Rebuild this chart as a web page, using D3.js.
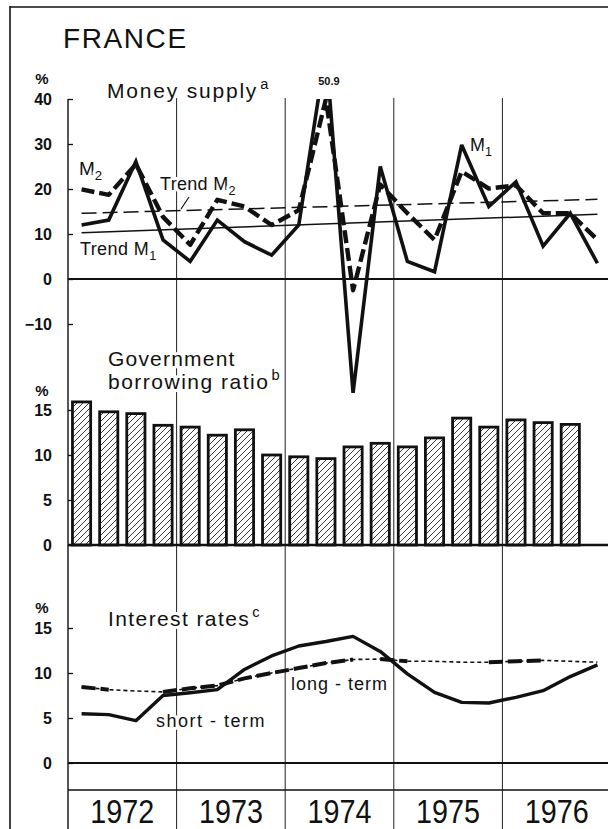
<!DOCTYPE html>
<html>
<head>
<meta charset="utf-8">
<script src="https://cdn.jsdelivr.net/npm/d3@7"></script>
<style>
  html, body { margin: 0; padding: 0; background: #fff; }
  svg { display: block; }
  text { font-family: "Liberation Sans", Arial, sans-serif; fill: #111; }
  .halo { paint-order: stroke; stroke: #fff; stroke-width: 6px; stroke-linejoin: round; }
</style>
</head>
<body>
<svg id="chart" width="608" height="829"></svg>
<script>
// ---- data -------------------------------------------------------------
const years = [1972, 1973, 1974, 1975, 1976];
const quarters = [
  "1972Q1", "1972Q2", "1972Q3", "1972Q4",
  "1973Q1", "1973Q2", "1973Q3", "1973Q4",
  "1974Q1", "1974Q2", "1974Q3", "1974Q4",
  "1975Q1", "1975Q2", "1975Q3", "1975Q4",
  "1976Q1", "1976Q2", "1976Q3", "1976Q4"
];

// Money supply, annualised growth (%)
const moneyM1 = [12.0, 13.1, 26.1, 8.7, 3.9, 13.1, 8.3, 5.3, 12.0, 50.9, -25.3, 25.0, 3.9, 1.6, 29.8, 16.1, 21.6, 7.3, 14.6, 3.5];
const moneyM2 = [19.9, 18.7, 25.5, 13.8, 7.6, 17.6, 16.1, 12.0, 15.3, 40.0, -2.5, 21.0, 14.6, 8.7, 23.9, 20.1, 20.8, 14.6, 14.6, 8.7];
// trend lines: value at first and last quarter
const trendM1 = [10.3, 14.4];
const trendM2 = [14.6, 17.7];

// Government borrowing ratio (%), no figure for 1976Q4
const borrowing = [15.9, 14.8, 14.6, 13.3, 13.1, 12.2, 12.8, 10.0, 9.8, 9.6, 10.9, 11.3, 10.9, 11.9, 14.1, 13.1, 13.9, 13.6, 13.4, null];

// Interest rates (%)
const shortTerm = [5.48, 5.37, 4.7, 7.5, 7.8, 8.15, 10.4, 11.9, 13.0, 13.5, 14.07, 12.4, 9.9, 7.85, 6.74, 6.67, 7.3, 8.04, 9.6, 10.9];
const longTerm  = [8.44, 8.15, 8.0, 7.9, 8.3, 8.6, 9.4, 10.0, 10.55, 11.1, 11.5, 11.55, 11.3, 11.3, 11.2, 11.2, 11.3, 11.4, 11.3, 11.2];

const moneyTicks = [-10, 0, 10, 20, 30, 40];
const borrowTicks = [0, 5, 10, 15];
const rateTicks = [0, 5, 10, 15];

// ---- layout -----------------------------------------------------------
const svg = d3.select("#chart");
const X0 = 68, X1 = 611;

const xq = d3.scaleBand().domain(quarters).range([X0, X1]).paddingInner(0.33).paddingOuter(0.165);
const cx = q => xq(q) + xq.bandwidth() / 2;
const xy = d3.scaleBand().domain(years).range([X0, X1]);

const yMoney  = d3.scaleLinear().domain([-10, 40]).range([324, 99]);
const yBorrow = d3.scaleLinear().domain([0, 15]).range([545, 410]);
const yRate   = d3.scaleLinear().domain([0, 15]).range([763, 628]);

// hatch for the bars
const defs = svg.append("defs");
defs.append("pattern")
  .attr("id", "hatch").attr("patternUnits", "userSpaceOnUse")
  .attr("width", 6).attr("height", 6)
  .append("path")
  .attr("d", "M-1,7 L7,-1 M-1,1 L1,-1 M5,7 L7,5")
  .attr("stroke", "#222").attr("stroke-width", 0.9);
defs.append("clipPath").attr("id", "moneyClip")
  .append("rect").attr("x", 0).attr("y", yMoney(40)).attr("width", 608).attr("height", 400);

// outer frame
svg.append("line").attr("x1", 10).attr("x2", 10).attr("y1", 6).attr("y2", 829)
  .attr("stroke", "#111").attr("stroke-width", 1.6);
svg.append("line").attr("x1", 10).attr("x2", 608).attr("y1", 7).attr("y2", 7)
  .attr("stroke", "#111").attr("stroke-width", 1.4);

svg.append("text").attr("x", 63).attr("y", 48)
  .style("font-size", "28px").style("letter-spacing", "1.6px").text("FRANCE");

// year separators and main vertical axis
svg.append("g").selectAll("line").data(years.slice(1)).join("line")
  .attr("x1", d => xy(d)).attr("x2", d => xy(d))
  .attr("y1", 98).attr("y2", 829)
  .attr("stroke", "#222").attr("stroke-width", 1);
svg.append("line").attr("x1", X0).attr("x2", X0).attr("y1", yMoney(40)).attr("y2", 829)
  .attr("stroke", "#111").attr("stroke-width", 1.4);

// zero lines and the year band line
[[yMoney(0), 2.2], [yBorrow(0), 2.6], [yRate(0), 2.2], [790, 1.4]].forEach(([y, w]) => {
  svg.append("line").attr("x1", X0).attr("x2", 608).attr("y1", y).attr("y2", y)
    .attr("stroke", "#111").attr("stroke-width", w);
});

// y axes: ticks point inward, labels on the left
function yAxis(scale, ticks, unitY) {
  const g = svg.append("g").attr("transform", `translate(${X0},0)`)
    .call(d3.axisLeft(scale).tickValues(ticks).tickSizeInner(-5).tickSizeOuter(0).tickPadding(16)
      .tickFormat(d => d < 0 ? "\u2212" + Math.abs(d) : d));
  g.select(".domain").remove();
  g.selectAll(".tick line").attr("stroke", "#111").attr("stroke-width", 1.3);
  g.selectAll(".tick text")
    .style("font-family", "'Liberation Sans', Arial, sans-serif")
    .style("font-size", "16px").style("font-weight", "bold").attr("fill", "#111");
  svg.append("text").attr("x", 42).attr("y", unitY).attr("text-anchor", "middle")
    .style("font-size", "15px").style("font-weight", "bold").text("%");
}
yAxis(yMoney, moneyTicks, 84);
yAxis(yBorrow, borrowTicks, 396);
yAxis(yRate, rateTicks, 613);

// ---- money supply -----------------------------------------------------
const moneyG = svg.append("g").attr("clip-path", "url(#moneyClip)");
const lineMoney = d3.line().x((d, i) => cx(quarters[i])).y(d => yMoney(d));

const qEnds = [quarters[0], quarters[quarters.length - 1]];
const lineTrend = d3.line().x((d, i) => cx(qEnds[i])).y(d => yMoney(d));
moneyG.append("path").datum(trendM1).attr("d", lineTrend)
  .attr("fill", "none").attr("stroke", "#111").attr("stroke-width", 1.5);
moneyG.append("path").datum(trendM2).attr("d", lineTrend)
  .attr("fill", "none").attr("stroke", "#111").attr("stroke-width", 1.5)
  .attr("stroke-dasharray", "15,6");

moneyG.append("path").datum(moneyM2).attr("d", lineMoney)
  .attr("fill", "none").attr("stroke", "#111").attr("stroke-width", 4.4)
  .attr("stroke-dasharray", "13,5").attr("stroke-linejoin", "round");
moneyG.append("path").datum(moneyM1).attr("d", lineMoney)
  .attr("fill", "none").attr("stroke", "#111").attr("stroke-width", 3.6)
  .attr("stroke-linejoin", "miter").attr("stroke-miterlimit", 3);

// value of the clipped peak
const peakIdx = d3.maxIndex(moneyM1);
svg.append("text").attr("x", cx(quarters[peakIdx]) + 3).attr("y", 85).attr("text-anchor", "middle")
  .style("font-size", "11px").style("font-weight", "bold").text(d3.format(".1f")(moneyM1[peakIdx]));

function label(x, y, size, parts, spacing) {
  const t = svg.append("text").attr("x", x).attr("y", y).style("font-size", size + "px")
    .attr("class", "halo").style("letter-spacing", (spacing || 0) + "px");
  parts.forEach(p => {
    const s = t.append("tspan").text(p.t);
    if (p.sub) s.style("font-size", (size * 0.7) + "px").attr("dy", 5);
    if (p.sup) s.style("font-size", (size * 0.7) + "px").attr("dy", -9).attr("dx", 2);
  });
  return t;
}
label(107, 98, 21, [{t: "Money  supply"}, {t: "a", sup: true}], 1.8);
label(79, 175, 19, [{t: "M"}, {t: "2", sub: true}]);
label(160, 190, 18, [{t: "Trend M"}, {t: "2", sub: true}], 0.3);
svg.append("line").attr("x1", 189).attr("y1", 197).attr("x2", 181).attr("y2", 209)
  .attr("stroke", "#111").attr("stroke-width", 1.2);
label(80, 255, 18, [{t: "Trend M"}, {t: "1", sub: true}], 0.4);
label(470, 151, 18, [{t: "M"}, {t: "1", sub: true}]);

// ---- government borrowing ratio ---------------------------------------
const bars = quarters.map((q, i) => ({q, v: borrowing[i]})).filter(d => d.v != null);
svg.append("g").selectAll("rect").data(bars).join("rect")
  .attr("x", d => xq(d.q)).attr("width", xq.bandwidth())
  .attr("y", d => yBorrow(d.v)).attr("height", d => yBorrow(0) - yBorrow(d.v))
  .attr("fill", "url(#hatch)").attr("stroke", "#111").attr("stroke-width", 2.8);

label(108, 366, 21, [{t: "Government"}], 1.2);
label(108, 389, 21, [{t: "borrowing  ratio"}, {t: "b", sup: true}], 1.5);

// ---- interest rates ---------------------------------------------------
const lineRate = d3.line().x((d, i) => cx(quarters[i])).y(d => yRate(d));
svg.append("path").datum(longTerm).attr("d", lineRate)
  .attr("fill", "none").attr("stroke", "#111").attr("stroke-width", 1.6)
  .attr("stroke-dasharray", "4,3");
// heavier dashes over part of the long-term series
const heavySpans = [[0, 1], [3, 10], [11, 12], [15, 17]];
heavySpans.forEach(([a, b]) => {
  const seg = longTerm.slice(a, b + 1);
  svg.append("path").datum(seg)
    .attr("d", d3.line().x((d, i) => cx(quarters[a + i])).y(d => yRate(d)))
    .attr("fill", "none").attr("stroke", "#111").attr("stroke-width", 4)
    .attr("stroke-dasharray", "14,5");
});
svg.append("path").datum(shortTerm).attr("d", lineRate)
  .attr("fill", "none").attr("stroke", "#111").attr("stroke-width", 3.4)
  .attr("stroke-linejoin", "round");

label(108, 626, 21, [{t: "Interest  rates"}, {t: "c", sup: true}], 1.4);
label(291, 690, 18, [{t: "long - term"}], 1);
label(156, 727, 18, [{t: "short - term"}], 1.5);

// ---- year labels ------------------------------------------------------
svg.append("g").selectAll("text").data(years).join("text")
  .attr("x", d => xy(d) + xy.bandwidth() / 2).attr("y", 823)
  .attr("text-anchor", "middle").style("font-size", "34px")
  .attr("textLength", 64).attr("lengthAdjust", "spacingAndGlyphs")
  .text(d => d);
</script>
</body>
</html>
